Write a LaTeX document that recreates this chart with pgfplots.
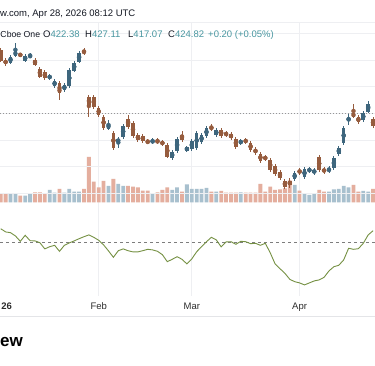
\documentclass[border=0pt]{standalone}
\usepackage{fontspec}
\setmainfont{Liberation Sans}
\usepackage{pgfplots}
\usepackage{pgfplotstable}
\pgfplotsset{compat=1.18}
\definecolor{upc}{RGB}{62,102,125}
\definecolor{downc}{RGB}{150,92,62}
\definecolor{upv}{RGB}{168,192,206}
\definecolor{downv}{RGB}{228,174,158}
\definecolor{oscc}{RGB}{118,145,68}
\definecolor{gridc}{RGB}{238,239,242}
\definecolor{valc}{RGB}{72,150,160}
\definecolor{txtc}{RGB}{19,23,34}
\definecolor{labc}{RGB}{45,45,45}

\pgfplotsset{base/.style={scale only axis, width=375bp, xmin=-0.143, xmax=76.39,
  axis line style={draw=none}, tick style={draw=none}, xtick=\empty, ytick=\empty,
  clip=false, anchor=south west}}

\pgfplotstableread{
i o h l c v
0 448.74 449.49 444.24 444.62 9.0
1 444.99 445.74 442.74 443.49 9.0
4 447.24 447.62 446.12 446.68 6.6
7 444.99 445.74 442.74 443.12 10.0
8 441.62 442.37 438.24 438.62 10.0
9 440.49 441.24 437.49 438.24 8.3
12 436.37 437.12 429.99 432.62 13.3
17 448.37 449.49 446.87 447.62 13.3
18 431.12 431.87 423.62 428.12 45.3
19 431.12 431.87 426.62 427.37 20.6
20 426.99 427.74 423.62 424.37 15.0
21 423.62 424.37 418.74 419.49 21.3
23 417.62 418.37 411.24 411.99 23.3
26 422.87 424.37 419.12 419.87 16.3
27 421.37 422.12 415.74 416.49 15.6
28 416.87 417.62 414.24 414.99 15.0
29 416.49 417.24 413.87 414.62 11.6
30 414.62 415.37 413.49 413.87 11.6
32 414.99 415.74 413.49 413.87 10.0
33 414.24 414.99 412.74 413.49 12.3
34 413.12 413.87 408.24 408.62 15.0
37 416.87 418.37 414.24 414.99 10.6
43 419.87 420.99 418.37 419.12 10.6
45 418.74 419.49 415.74 416.49 11.3
46 417.62 418.37 416.12 416.87 9.6
47 417.24 417.99 414.99 415.74 9.6
48 415.37 416.12 411.62 412.37 9.6
50 414.99 415.74 413.49 414.24 9.6
51 413.87 414.62 410.49 411.24 9.6
52 411.62 412.37 409.37 410.12 9.6
53 409.74 410.49 406.37 407.12 18.3
54 408.62 409.37 407.12 407.87 10.6
55 407.49 408.24 402.99 403.74 15.6
56 405.24 405.99 401.49 402.24 12.3
57 402.99 403.74 399.99 400.74 13.0
58 399.62 400.37 396.62 397.37 14.0
59 399.62 400.74 396.99 398.12 22.0
61 403.74 404.49 401.87 402.62 11.6
65 408.62 409.37 402.99 403.74 12.3
66 403.93 404.87 402.24 403.18 10.6
72 425.12 428.49 423.24 423.62 17.3
73 423.62 424.37 420.99 421.74 10.6
76 422.87 423.62 419.49 420.24 13.3
}\downtab

\pgfplotstableread{
i o h l c v
2 443.87 446.87 443.49 446.12 8.3
3 446.49 451.49 446.12 448.37 9.0
5 444.62 447.24 444.24 446.49 6.6
6 446.12 447.62 445.74 446.68 9.0
10 438.24 439.74 437.49 438.99 12.3
11 435.24 437.87 434.49 437.12 9.6
13 433.74 436.37 432.99 435.62 9.6
14 435.24 441.99 434.49 441.24 13.3
15 440.87 444.62 440.49 443.87 10.6
16 444.24 448.37 443.87 447.62 10.6
22 419.12 422.49 418.74 420.99 16.3
24 414.24 416.12 411.99 415.37 18.3
25 416.12 420.99 415.37 420.24 16.3
31 413.87 415.74 413.49 414.99 8.3
35 408.24 411.24 407.49 410.49 12.3
36 410.87 416.12 410.12 415.37 15.0
38 411.05 412.74 410.49 412.18 18.0
39 411.62 415.37 410.87 414.62 13.3
40 411.99 418.37 411.24 417.62 13.3
41 414.24 417.62 413.49 416.87 13.3
42 416.49 420.24 415.74 419.49 14.3
44 416.87 419.49 416.12 418.74 10.6
49 413.87 415.37 413.12 414.62 10.0
60 400.37 403.37 399.62 402.62 17.3
62 401.12 404.87 400.37 404.12 9.0
63 403.37 404.87 402.62 403.93 7.3
64 402.62 404.49 401.87 403.74 9.0
67 403.18 405.24 402.62 404.30 10.6
68 404.49 408.99 403.74 408.24 13.0
69 409.74 412.74 408.99 411.99 13.3
70 413.87 420.24 413.12 419.49 16.3
71 422.49 424.74 420.62 423.24 15.0
74 422.49 425.87 421.74 425.12 11.3
75 425.49 429.62 425.12 428.49 10.6
}\uptab

\pgfplotstableread{
i r
0 57.0
1 55.4
2 55.0
3 53.4
4 50.7
5 53.7
6 51.0
7 50.9
8 50.0
9 46.9
10 48.0
11 48.7
12 45.7
13 48.7
14 49.9
15 50.9
16 52.0
17 53.0
18 53.9
19 52.7
20 51.2
21 48.9
22 45.9
23 42.7
24 46.0
25 46.9
26 46.0
27 45.4
28 45.4
29 46.0
30 46.7
31 46.4
32 45.7
33 44.0
34 40.5
35 41.7
36 43.0
37 41.7
38 39.4
39 41.9
40 45.5
41 48.0
42 50.5
43 52.7
44 51.4
45 47.9
46 50.4
47 50.5
48 49.2
49 50.7
50 50.5
51 49.5
52 49.7
53 48.7
54 49.7
55 45.0
56 39.4
57 37.0
58 34.7
59 31.7
60 30.5
61 29.9
62 28.9
63 29.9
64 30.9
65 31.4
66 32.7
67 35.9
68 38.0
69 38.7
70 41.4
71 47.2
72 46.7
73 47.0
74 49.7
75 53.9
76 56.0
}\osctab

\begin{document}
\begin{tikzpicture}
\path[use as bounding box, fill=white] (0bp,0bp) rectangle (375bp,366bp);

% background: vertical month grid and date labels
\begin{axis}[base, at={(0bp,70bp)}, height=274bp, ymin=0, ymax=1,
  xtick={20,39,61}, xticklabels={Feb,Mar,Apr}, xmajorgrids,
  grid style={gridc, line width=0.7bp},
  xticklabel style={font=\fontsize{9.5bp}{11bp}\selectfont, text=labc, anchor=base, yshift=-13.3bp},
  extra x ticks={1.2}, extra x tick labels={\textbf{26}}, extra x tick style={grid=none}]
\addplot[draw=none, forget plot] coordinates {(0,0.5)};
\end{axis}

% volume
\begin{axis}[base, at={(0bp,163.7bp)}, height=50bp, ymin=0, ymax=50,
  ybar, bar width=3.8bp, bar shift=0pt]
\addplot[fill=downv, draw=none] table[x=i, y=v] \downtab;
\addplot[fill=upv, draw=none] table[x=i, y=v] \uptab;
\end{axis}

% oscillator
\begin{axis}[base, at={(0bp,76bp)}, height=70bp, ymin=26.35, ymax=61.35]
\addplot[color={rgb,255:red,125;green,125;blue,125}, dash pattern=on 3bp off 3bp, line width=0.7bp] coordinates {(-0.143,50) (76.39,50)};
\addplot[oscc, line width=0.9bp, mark=none] table[x=i, y=r] \osctab;
\end{axis}

% price candles
\begin{axis}[base, at={(0bp,166bp)}, height=170bp, ymin=392.49, ymax=456.24,
  ytick={395,405,...,455}, yticklabels={}, ymajorgrids, grid style={gridc, line width=0.7bp}]
\addplot[color={rgb,255:red,150;green,150;blue,150}, dash pattern=on 1bp off 2bp, line width=0.8bp] coordinates {(-0.143,424.82) (76.39,424.82)};
\addplot[downc, only marks, mark=none, error bars/.cd, y dir=both, y explicit,
  error bar style={line width=0.9bp, draw=downc}, error mark=none]
  table[x=i, y expr={(\thisrow{h}+\thisrow{l})/2}, y error expr={(\thisrow{h}-\thisrow{l})/2}] \downtab;
\addplot[upc, only marks, mark=none, error bars/.cd, y dir=both, y explicit,
  error bar style={line width=0.9bp, draw=upc}, error mark=none]
  table[x=i, y expr={(\thisrow{h}+\thisrow{l})/2}, y error expr={(\thisrow{h}-\thisrow{l})/2}] \uptab;
\addplot[downc, only marks, mark=none, error bars/.cd, y dir=both, y explicit,
  error bar style={line width=3.6bp, draw=downc}, error mark=none]
  table[x=i, y expr={(\thisrow{o}+\thisrow{c})/2}, y error expr={max(abs(\thisrow{o}-\thisrow{c})/2,0.2)}] \downtab;
\addplot[upc, only marks, mark=none, error bars/.cd, y dir=both, y explicit,
  error bar style={line width=3.6bp, draw=upc}, error mark=none]
  table[x=i, y expr={(\thisrow{o}+\thisrow{c})/2}, y error expr={max(abs(\thisrow{o}-\thisrow{c})/2,0.2)}] \uptab;
\end{axis}

% header lines and separators
\draw[gridc, line width=0.7bp] (0bp,344bp) -- (375bp,344bp);
\draw[color={rgb,255:red,228;green,229;blue,232}, line width=0.8bp] (0bp,50bp) -- (375bp,50bp);
\begin{scope}[every node/.style={inner sep=0pt, anchor=base west, font=\fontsize{9.5bp}{11bp}\selectfont, text=txtc}]
\node at (0bp,349.5bp) {w.com, Apr 28, 2026 08:12 UTC};
\node[font=\fontsize{8.7bp}{11bp}\selectfont] at (0.3bp,328.5bp) {Cboe One};
\node at (43bp,328.5bp) {O\textcolor{valc}{422.38}};
\node at (85bp,328.5bp) {H\textcolor{valc}{427.11}};
\node at (128bp,328.5bp) {L\textcolor{valc}{417.07}};
\node at (168bp,328.5bp) {C\textcolor{valc}{424.82}};
\node at (208bp,328.5bp) {\textcolor{valc}{+0.20 (+0.05\%)}};
\node[font=\bfseries\fontsize{17bp}{20bp}\selectfont, text=black] at (0bp,19.5bp) {ew};
\end{scope}
\end{tikzpicture}
\end{document}
